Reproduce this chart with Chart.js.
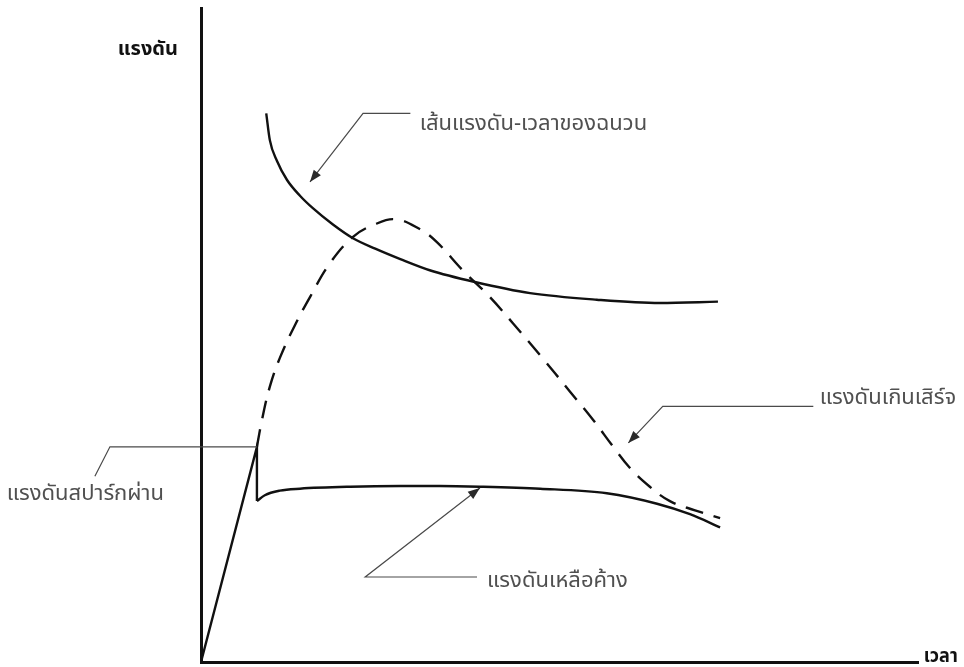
<!DOCTYPE html>
<html lang="th">
<head>
<meta charset="utf-8">
<title>แรงดัน-เวลา</title>
<script src="https://cdn.jsdelivr.net/npm/chart.js@4.4.1/dist/chart.umd.min.js"></script>
<style>
    html, body { margin: 0; padding: 0; background: #ffffff; }
    #wrap { width: 964px; height: 667px; }
</style>
</head>
<body>
<div id="wrap"><canvas id="vtChart" width="964" height="667"></canvas></div>
<script>
// both axes run 0..100 (arbitrary units)

// insulation volt-time curve (solid)
const insulationTime = [9.1, 9.6, 10.6, 12.0, 13.8, 15.6, 18.4, 21.2, 24.3, 27.8, 31.9, 38.2, 45.9, 55.2, 64.0, 72.1];
const insulationVolt = [83.9, 79.8, 76.6, 73.7, 71.3, 69.4, 66.9, 64.8, 63.2, 61.6, 59.9, 58.1, 56.4, 55.4, 54.9, 55.1];

// surge overvoltage (dashed)
const surgeTime = [7.8, 8.5, 9.6, 11.0, 13.1, 15.2, 18.0, 21.2, 24.0, 27.1, 30.5, 32.9, 36.5, 40.3, 43.5, 47.3, 51.5, 54.7, 57.5, 59.8, 62.6, 65.4, 68.9, 72.4];
const surgeVolt = [32.9, 37.0, 42.1, 46.5, 51.5, 55.8, 61.0, 65.0, 66.8, 67.7, 66.2, 64.2, 59.9, 55.8, 51.8, 46.9, 41.3, 37.0, 32.9, 29.7, 26.8, 24.6, 23.2, 22.0];

// impulse front up to sparkover, then the collapse
const rampTime = [0, 7.8, 7.8];
const rampVolt = [0, 32.9, 24.6];

// residual voltage after sparkover
const residualTime = [7.8, 8.9, 11.0, 13.8, 20.8, 27.8, 33.3, 38.9, 47.3, 56.6, 63.6, 68.2, 72.4];
const residualVolt = [24.6, 25.5, 26.2, 26.5, 26.8, 26.9, 26.9, 26.8, 26.5, 25.8, 24.2, 22.6, 20.6];

const axisMax = 100;

// labels and their leader lines, in axis units
const THAI_FONT = '"Noto Sans Thai", "Noto Sans Thai UI", Loma, Garuda, "DejaVu Sans", sans-serif';
const callouts = [
    { text: 'เส้นแรงดัน-เวลาของฉนวน', at: [30.5, 82.1], path: [[29.2, 83.9], [22.6, 83.9], [15.2, 73.4]], arrow: true },
    { text: 'แรงดันเกินเสิร์จ', at: [86.3, 40.1], path: [[85.4, 39.1], [64.4, 39.1], [59.6, 33.5]], arrow: true },
    { text: 'แรงดันสปาร์กผ่าน', at: [-27.1, 25.5], path: [[-14.8, 28.4], [-12.7, 32.9], [7.8, 32.9]], arrow: false },
    { text: 'แรงดันเหลือค้าง', at: [39.9, 12.2], path: [[38.5, 13.0], [22.9, 13.0], [38.9, 26.6]], arrow: true },
];

function toPoints(xs, ys) {
    return xs.map((x, i) => ({ x: x, y: ys[i] }));
}

function drawArrowHead(ctx, from, to) {
    const ang = Math.atan2(to.y - from.y, to.x - from.x);
    const len = 12, half = 4.5;
    ctx.beginPath();
    ctx.moveTo(to.x, to.y);
    ctx.lineTo(to.x - len * Math.cos(ang) + half * Math.sin(ang), to.y - len * Math.sin(ang) - half * Math.cos(ang));
    ctx.lineTo(to.x - len * Math.cos(ang) - half * Math.sin(ang), to.y - len * Math.sin(ang) + half * Math.cos(ang));
    ctx.closePath();
    ctx.fill();
}

// draws axis names and the callouts on top of the chart
const calloutPlugin = {
    id: 'callouts',
    afterDraw(chart) {
        const ctx = chart.ctx;
        const xs = chart.scales.x, ys = chart.scales.y;
        const px = p => ({ x: xs.getPixelForValue(p[0]), y: ys.getPixelForValue(p[1]) });
        ctx.save();

        callouts.forEach(c => {
            const pts = c.path.map(px);
            ctx.strokeStyle = '#4a4a4a';
            ctx.fillStyle = '#2a2a2a';
            ctx.lineWidth = 1.2;
            ctx.beginPath();
            pts.forEach((p, i) => i ? ctx.lineTo(p.x, p.y) : ctx.moveTo(p.x, p.y));
            ctx.stroke();
            if (c.arrow) {
                drawArrowHead(ctx, pts[pts.length - 2], pts[pts.length - 1]);
            }
            const t = px(c.at);
            ctx.fillStyle = '#505050';
            ctx.font = '22px ' + THAI_FONT;
            ctx.textAlign = 'left';
            ctx.textBaseline = 'middle';
            ctx.fillText(c.text, t.x, t.y);
        });

        // axis names
        ctx.fillStyle = '#111111';
        ctx.font = 'bold 20px ' + THAI_FONT;
        ctx.textBaseline = 'middle';
        ctx.textAlign = 'left';
        const yName = px([-11.6, 93.4]);
        ctx.fillText('แรงดัน', yName.x, yName.y);
        ctx.font = 'bold 19px ' + THAI_FONT;
        const xName = px([100.8, 0]);
        ctx.fillText('เวลา', xName.x, xName.y - 4, 34);

        ctx.restore();
    }
};

function initVoltTimeChart(chartId) {
    const ctx = document.getElementById(chartId).getContext('2d');
    const lineStyle = {
        borderColor: '#111111',
        borderWidth: 2.4,
        pointRadius: 0,
        showLine: true,
        fill: false,
    };
    new Chart(ctx, {
        type: 'scatter',
        data: {
            datasets: [
                Object.assign({ label: 'เส้นแรงดัน-เวลาของฉนวน', data: toPoints(insulationTime, insulationVolt), cubicInterpolationMode: 'monotone' }, lineStyle),
                Object.assign({ label: 'แรงดันเกินเสิร์จ', data: toPoints(surgeTime, surgeVolt), tension: 0.4, borderDash: [18, 11] }, lineStyle),
                Object.assign({ label: 'แรงดันสปาร์กผ่าน', data: toPoints(rampTime, rampVolt), tension: 0 }, lineStyle),
                Object.assign({ label: 'แรงดันเหลือค้าง', data: toPoints(residualTime, residualVolt), cubicInterpolationMode: 'monotone' }, lineStyle),
            ]
        },
        options: {
            responsive: false,
            animation: false,
            layout: {
                padding: { left: 201, top: 8, right: 46, bottom: 5 },
            },
            plugins: {
                legend: { display: false },
                tooltip: { enabled: false },
            },
            scales: {
                x: {
                    type: 'linear',
                    min: 0,
                    max: axisMax,
                    ticks: { display: false },
                    grid: { display: false, drawTicks: false },
                    border: { display: true, color: '#111111', width: 3 },
                },
                y: {
                    type: 'linear',
                    min: 0,
                    max: axisMax,
                    ticks: { display: false },
                    grid: { display: false, drawTicks: false },
                    border: { display: true, color: '#111111', width: 3 },
                },
            },
        },
        plugins: [calloutPlugin],
    });
}

initVoltTimeChart('vtChart');
</script>
</body>
</html>
